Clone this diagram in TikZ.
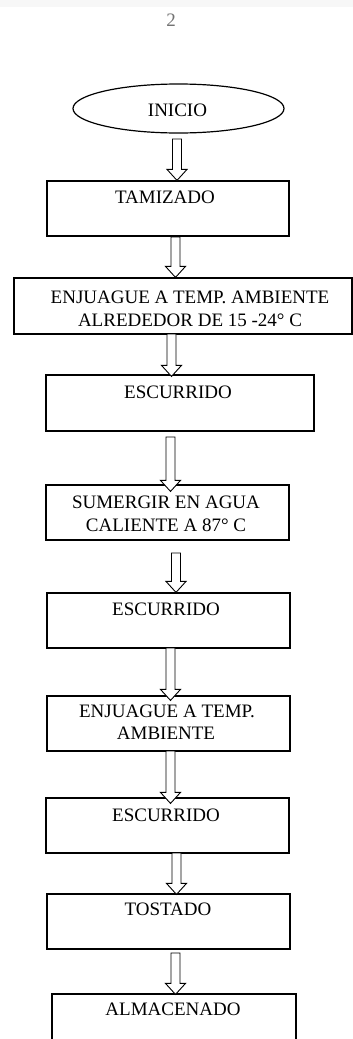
\documentclass[tikz,border=0pt]{standalone}
\usepackage{fontspec}
\setmainfont{Liberation Serif}
\usetikzlibrary{calc,shapes.geometric}
\tikzset{
  box/.style={draw, line width=1.2pt, inner sep=0pt, rectangle},
  lbl/.style={anchor=base, inner sep=0pt, font=\fontsize{19}{23}\selectfont},
  arrowline/.style={draw, line width=0.9pt, fill=white, line join=miter}
}
\newcommand{\blockarrow}[3]{%
  \draw[arrowline] let \p1=(#1), \p2=($(#1 |- #2.north)+(0,-#3)$) in
    (\x1-4.5pt,\y1) -- (\x1+4.5pt,\y1) -- (\x1+4.5pt,\y2+11pt) -- (\x1+10pt,\y2+11pt)
    -- (\x1,\y2) -- (\x1-10pt,\y2+11pt) -- (\x1-4.5pt,\y2+11pt) -- cycle;}
\begin{document}
\begin{tikzpicture}[x=1pt,y=1pt]
\clip (0,0) rectangle (353,-1039);
\useasboundingbox (0,0) rectangle (353,-1039);
\fill[black!3] (0,0) rectangle (353,-7);
\node[lbl, text=black!55] (pnum) at (171,-26) {2};

\node[ellipse, draw, line width=1.2pt, minimum width=211pt, minimum height=49pt, inner sep=0pt] (inicio) at (178.5,-108.5) {};
\node[lbl] (tinicio) at (177.5,-116.5) {INICIO};

\node[box, minimum width=242pt, minimum height=55pt] (tam) at (168,-208.5) {};
\node[lbl] (ttam) at (165,-203.5) {TAMIZADO};

\node[box, minimum width=338pt, minimum height=56pt] (enj1) at (183,-306) {};
\node[lbl] (tenj1a) at (190,-303.5) {ENJUAGUE A TEMP. AMBIENTE};
\node[lbl] (tenj1b) at (190,-326.5) {ALREDEDOR DE 15 -24° C};

\node[box, minimum width=268pt, minimum height=56pt] (esc1) at (180,-403) {};
\node[lbl] (tesc1) at (178,-398.5) {ESCURRIDO};

\node[box, minimum width=243pt, minimum height=55pt] (sum) at (167.5,-512.5) {};
\node[lbl] (tsuma) at (166,-508.5) {SUMERGIR EN AGUA};
\node[lbl] (tsumb) at (166,-531.5) {CALIENTE A 87° C};

\node[box, minimum width=243pt, minimum height=55pt] (esc2) at (168.5,-620.5) {};
\node[lbl] (tesc2) at (166,-615.5) {ESCURRIDO};

\node[box, minimum width=243pt, minimum height=55pt] (enj2) at (168.5,-723.5) {};
\node[lbl] (tenj2a) at (167,-717.5) {ENJUAGUE A TEMP.};
\node[lbl] (tenj2b) at (166,-739.5) {AMBIENTE};

\node[box, minimum width=243pt, minimum height=55pt] (esc3) at (167.5,-825.5) {};
\node[lbl] (tesc3) at (166,-821.5) {ESCURRIDO};

\node[box, minimum width=243pt, minimum height=55pt] (tos) at (168.5,-921.5) {};
\node[lbl] (ttos) at (168,-915.5) {TOSTADO};

\node[box, minimum width=244pt, minimum height=60pt] (alm) at (174,-1024) {};
\node[lbl] (talm) at (173,-1015.5) {ALMACENADO};

\coordinate (a1) at (177,-139);
\coordinate (a2) at (175.5,-237);
\coordinate (a3) at (171.5,-334);
\coordinate (a4) at (170.5,-437);
\coordinate (a5) at (176,-553);
\coordinate (a6) at (170.5,-648);
\coordinate (a7) at (170.5,-751);
\coordinate (a8) at (176.5,-853);
\coordinate (a9) at (175.5,-953);

\blockarrow{a1}{tam}{0}
\blockarrow{a2}{enj1}{0}
\blockarrow{a3}{esc1}{2}
\blockarrow{a4}{sum}{7}
\blockarrow{a5}{esc2}{0}
\blockarrow{a6}{enj2}{5}
\blockarrow{a7}{esc3}{6}
\blockarrow{a8}{tos}{1}
\blockarrow{a9}{alm}{1}
\end{tikzpicture}
\end{document}
